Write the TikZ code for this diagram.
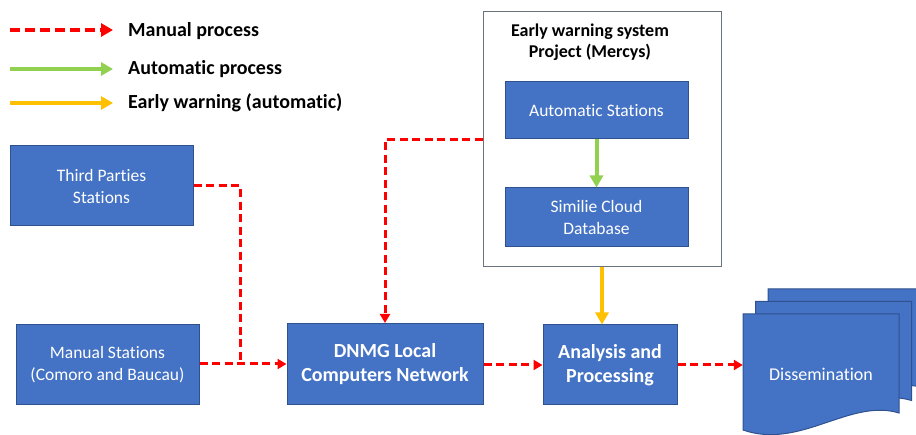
\documentclass[tikz,border=0pt]{standalone}
\usepackage{fontspec}
\setmainfont{Carlito}[Ligatures={NoCommon,NoContextual,NoRare},RawFeature={-calt}]
\usetikzlibrary{arrows.meta}
\definecolor{boxblue}{RGB}{68,114,196}
\definecolor{boxedge}{RGB}{47,82,143}
\definecolor{mred}{RGB}{255,0,0}
\definecolor{agreen}{RGB}{146,208,80}
\definecolor{ewyellow}{RGB}{255,192,0}
\definecolor{framegray}{RGB}{105,115,125}
\begin{document}
\begin{tikzpicture}[x=1pt,y=-1pt,
  bluebox/.style={draw=boxedge, line width=1pt, fill=boxblue, text=white, align=center,
    font=\fontsize{17.5}{22}\selectfont, inner sep=0pt},
  boldbox/.style={bluebox, font=\fontsize{20}{24}\selectfont\bfseries},
  legendtext/.style={anchor=west, inner sep=0pt, font=\fontsize{20}{24}\selectfont\bfseries},
  manualarrow/.style={draw=mred, line width=3pt, dash pattern=on 8pt off 4.5pt, -{Triangle[length=9pt,width=10pt]}},
  manualline/.style={draw=mred, line width=3pt, dash pattern=on 8pt off 4.5pt},
  autoarrow/.style={draw=agreen, line width=4pt, -{Triangle[length=12pt,width=13pt]}},
  warnarrow/.style={draw=ewyellow, line width=4pt, -{Triangle[length=12pt,width=13pt]}},
  pagestyle/.style={draw=boxedge, line width=1pt, fill=boxblue}
]
\useasboundingbox (0,0) rectangle (916,435);

% legend
\coordinate (la1) at (10,30);  \coordinate (lb1) at (113,30);
\coordinate (la2) at (10,69);  \coordinate (lb2) at (113,69);
\coordinate (la3) at (10,103); \coordinate (lb3) at (113,103);
\draw[draw=mred, line width=4pt, dash pattern=on 10pt off 5pt, -{Triangle[length=12pt,width=13pt]}] (la1) -- (lb1);
\draw[draw=agreen, line width=4pt, -{Triangle[length=12pt,width=13pt]}] (la2) -- (lb2);
\draw[draw=ewyellow, line width=4pt, -{Triangle[length=12pt,width=13pt]}] (la3) -- (lb3);
\node[legendtext] (t1) at (128,31) {Manual process};
\node[legendtext] (t2) at (128,69) {Automatic process};
\node[legendtext] (t3) at (128,103) {Early warning (automatic)};

% early warning frame
\node[draw=framegray, line width=1pt, fill=white, minimum width=238pt, minimum height=255pt, inner sep=0pt] (ew) at (602,139.5) {};
\node[align=center, inner sep=0pt, font=\fontsize{18}{21}\selectfont\bfseries] (ewt) at (590,42) {Early warning system\\Project (Mercys)};
\node[bluebox, minimum width=183pt, minimum height=57pt] (auto) at (596.5,110.5) {Automatic Stations};
\node[bluebox, minimum width=183pt, minimum height=59pt] (sim) at (596.5,217.5) {Similie Cloud\\Database};

% left and bottom boxes
\node[bluebox, minimum width=183pt, minimum height=80pt] (third) at (101.5,186) {Third Parties\\Stations};
\node[bluebox, minimum width=183pt, minimum height=80pt] (manual) at (107.5,365) {Manual Stations\\(Comoro and Baucau)};
\node[boldbox, minimum width=196pt, minimum height=81pt] (dnmg) at (385,364) {DNMG Local\\Computers Network};
\node[boldbox, minimum width=134pt, minimum height=80pt] (ana) at (610,365) {Analysis and\\Processing};

% dissemination (multi-document)
\foreach \d in {25,12.5,0}{
  \draw[pagestyle, shift={(\d,-\d)}] (743,314) -- (899,314) -- (899,413)
    .. controls (850,398) and (800,450) .. (743,430) -- cycle;
}
\node[inner sep=0pt, minimum width=156pt, minimum height=100pt, text=white,
  font=\fontsize{18}{22}\selectfont] (diss) at (821,374) {Dissemination};

% connectors
\coordinate (j1) at (240,364);
\coordinate (k1) at (385,140);
\draw[manualline] (third.east) -| (j1);
\draw[manualarrow] (manual.east |- dnmg.west) -- (dnmg.west);
\draw[manualarrow] (ew.west |- k1) -- (k1) -- (dnmg.north);
\draw[manualarrow] (dnmg.east |- ana.west) -- (ana.west);
\draw[manualarrow] (ana.east) -- (ana.east -| diss.west);
\draw[autoarrow] (auto.south) -- (sim.north);
\draw[warnarrow] (ew.south) -- (ana.north -| ew.south);
\end{tikzpicture}
\end{document}
